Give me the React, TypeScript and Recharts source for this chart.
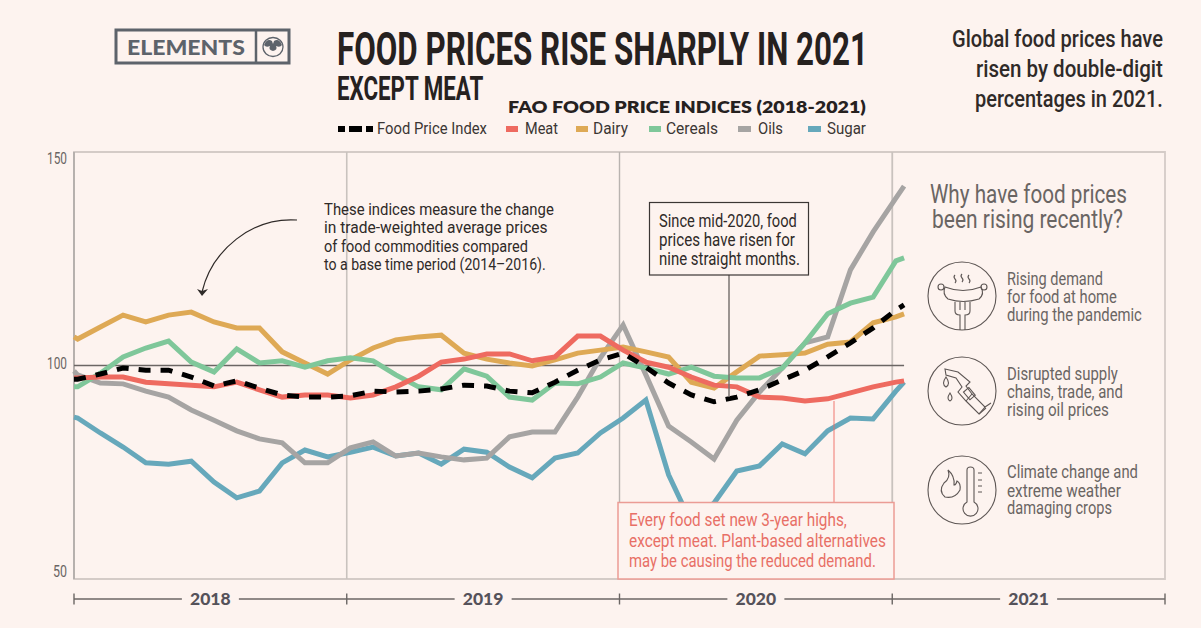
import React from "react";
import { LineChart, Line, XAxis, YAxis, ReferenceLine, ReferenceArea } from "recharts";

// Month positions on the time axis (0 = left edge of 2018, 12 months per year block)
const positions = [0, 0.16, 1.16, 2.16, 3.16, 4.16, 5.16, 6.16, 7.16, 8.16, 9.16, 10.16, 11.16, 12.16, 13.16, 14.16, 15.16, 16.16, 17.16, 18.16, 19.16, 20.16, 21.16, 22.16, 23.16, 24.16, 25.16, 26.16, 27.16, 28.16, 29.16, 30.16, 31.16, 32.16, 33.16, 34.16, 35.16, 36.16, 36.52];

const foodPriceIndex = [96.8, 96.8, 98.0, 99.4, 98.9, 98.9, 97.3, 95.2, 96.4, 94.7, 93.1, 92.6, 92.6, 92.9, 94.0, 93.8, 94.0, 94.5, 95.4, 95.2, 94.0, 93.6, 96.1, 98.9, 101.3, 102.9, 99.6, 95.9, 93.1, 91.5, 92.6, 94.3, 96.6, 98.9, 102.0, 105.3, 108.8, 113.0, 114.2];
const meat = [97.1, 97.1, 97.3, 97.3, 96.1, 95.7, 95.4, 95.0, 96.1, 94.3, 92.6, 93.1, 93.1, 92.4, 93.1, 95.0, 97.5, 100.8, 101.5, 102.7, 102.7, 101.1, 102.0, 106.9, 106.9, 103.6, 100.8, 99.6, 97.3, 95.4, 95.0, 92.6, 92.4, 91.7, 92.2, 93.6, 95.0, 96.1, 96.4];
const dairy = [106.7, 106.2, 109.0, 111.8, 110.2, 111.8, 112.5, 110.2, 108.8, 108.8, 103.2, 100.6, 98.0, 101.3, 104.1, 106.0, 106.7, 107.1, 102.9, 101.5, 100.6, 99.9, 101.3, 102.9, 103.6, 104.3, 103.2, 102.0, 96.1, 94.7, 98.5, 102.2, 102.5, 102.9, 105.0, 105.5, 110.0, 111.4, 112.1];
const cereals = [95.0, 95.0, 98.2, 102.0, 104.1, 105.7, 100.8, 98.5, 103.9, 100.6, 101.1, 99.6, 101.1, 101.8, 101.1, 97.8, 95.0, 94.3, 99.2, 97.5, 92.6, 91.9, 95.9, 95.7, 97.3, 100.6, 99.4, 98.0, 99.6, 97.5, 97.1, 97.1, 99.4, 105.3, 112.1, 114.6, 116.0, 124.5, 125.2];
const oils = [98.7, 97.8, 95.9, 95.7, 94.0, 92.6, 89.6, 87.2, 84.7, 82.8, 81.9, 77.2, 77.2, 80.7, 82.1, 78.8, 79.5, 78.6, 77.9, 78.3, 83.3, 84.4, 84.4, 92.6, 101.8, 109.5, 97.8, 85.8, 82.1, 78.1, 87.2, 93.8, 99.4, 105.3, 106.7, 122.4, 131.3, 139.2, 142.0];
const sugar = [87.9, 87.7, 84.2, 80.9, 77.2, 76.9, 77.6, 72.7, 69.0, 70.6, 77.2, 80.2, 78.6, 79.7, 80.9, 78.8, 79.5, 76.9, 80.4, 79.7, 76.2, 73.7, 78.3, 79.5, 84.2, 87.7, 91.9, 74.4, 63.1, 67.8, 75.3, 76.5, 81.6, 79.3, 84.7, 87.7, 87.5, 94.0, 96.1];

const rows = positions.map((t, i) => ({
  t,
  fpi: foodPriceIndex[i],
  meat: meat[i],
  dairy: dairy[i],
  cereals: cereals[i],
  oils: oils[i],
  sugar: sugar[i],
}));

const BG = "#fdf3ef";
const RED = "#ee6a60";
const GOLD = "#dea955";
const GREEN = "#7fc79a";
const GREY = "#a6a4a3";
const BLUE = "#66a8bb";
const INK = "#5f5a58";

const yTicks = [50, 100, 150];
const yLabelShift: Record<number, number> = { 150: 5, 100: -3.5, 50: -9 };
const xTicks = [0, 12, 24, 36, 48];
const yearLabels = ["2018", "2019", "2020", "2021"];
const MONTH_PX = 22.73;

const measureCtx = document.createElement("canvas").getContext("2d") as CanvasRenderingContext2D;

// Text squeezed horizontally to the reference's width, through a real transform
const T = ({ x, y, w, s, c = INK, wt = 400, f = "Roboto", children }: any) => {
  measureCtx.font = `${wt} ${s}px ${f}`;
  const natural = measureCtx.measureText(String(children)).width || w;
  return (
    <text transform={`translate(${x} ${y}) scale(${w / natural} 1)`} fontFamily={f} fontSize={s} fontWeight={wt} fill={c}>
      {children}
    </text>
  );
};

const YTick = (p: any) => {
  const v = p.payload.value;
  const w = v > 99 ? 20 : 14;
  return <T x={67 - w} y={p.y + yLabelShift[v] + 6.5} w={w} s={17} c="#6a6563">{v}</T>;
};

const XTick = (p: any) => {
  const idx = xTicks.indexOf(p.payload.value);
  const yy = 599;
  const block = MONTH_PX * 12;
  return (
    <g>
      <line x1={p.x} x2={p.x} y1={yy - 5.5} y2={yy + 5.5} stroke="#6b6664" strokeWidth={1.4} />
      {idx < 4 && (
        <g>
          <line x1={p.x} x2={p.x + block / 2 - 28.5} y1={yy} y2={yy} stroke="#6b6664" strokeWidth={1.4} />
          <line x1={p.x + block / 2 + 28.5} x2={p.x + block} y1={yy} y2={yy} stroke="#6b6664" strokeWidth={1.4} />
          <text x={p.x + block / 2} y={yy + 6} textAnchor="middle" fontFamily="Lato" fontWeight={900} fontSize={17.5} fill="#55525a">
            {yearLabels[idx]}
          </text>
        </g>
      )}
    </g>
  );
};

const legendItems = [
  { name: "Meat", color: RED, sx: 506, sw: 12, tx: 525, tw: 33 },
  { name: "Dairy", color: GOLD, sx: 576, sw: 12, tx: 593, tw: 35 },
  { name: "Cereals", color: GREEN, sx: 649, sw: 12, tx: 666, tw: 52 },
  { name: "Oils", color: GREY, sx: 738, sw: 13, tx: 758, tw: 25 },
  { name: "Sugar", color: BLUE, sx: 808, sw: 13, tx: 827, tw: 39 },
];

const Overlay = () => (
  <svg width={1201} height={628} style={{ position: "absolute", left: 0, top: 0, pointerEvents: "none" }}>
    {/* Logo */}
    <rect x={116} y={30} width={173} height={33} fill="none" stroke="#5d636b" strokeWidth={3} />
    <line x1={256} x2={256} y1={30} y2={63} stroke="#5d636b" strokeWidth={2.5} />
    <T x={127} y={54.5} w={118} s={21.5} wt={900} c="#5d636b" f="Lato">ELEMENTS</T>
    <ellipse cx={273} cy={47} rx={10} ry={9.5} fill="none" stroke="#5d636b" strokeWidth={1.3} />
    <path d="M264 45 Q267 38 272 41 L273 44 L274 41 Q279 38 282 45 Q280 48 276 46 Q278 50 273 51 Q268 50 270 46 Q266 48 264 45Z" fill="#5d636b" />

    {/* Titles */}
    <T x={337} y={65} w={531} s={46} wt={700} c="#26211f">FOOD PRICES RISE SHARPLY IN 2021</T>
    <T x={337} y={100} w={147} s={34} wt={700} c="#26211f">EXCEPT MEAT</T>
    <T x={508} y={113} w={358} s={17} wt={800} c="#26211f" f="Lato">FAO FOOD PRICE INDICES (2018-2021)</T>

    {/* Legend */}
    <g>
      <rect x={338} y={126} width={7} height={6} fill="#000" />
      <rect x={349} y={126} width={13} height={6} fill="#000" />
      <rect x={366} y={126} width={7} height={6} fill="#000" />
      <T x={377} y={134} w={110} s={17} c="#3b3634">Food Price Index</T>
      {legendItems.map((l) => (
        <g key={l.name}>
          <rect x={l.sx} y={126} width={l.sw} height={6} fill={l.color} />
          <T x={l.tx} y={134} w={l.tw} s={17} c="#3b3634">{l.name}</T>
        </g>
      ))}
    </g>

    {/* Top right blurb */}
    <T x={952} y={47} w={211} s={23} wt={500} c="#2f2a28">Global food prices have</T>
    <T x={976} y={77} w={187} s={23} wt={500} c="#2f2a28">risen by double-digit</T>
    <T x={975} y={107} w={188} s={23} wt={500} c="#2f2a28">percentages in 2021.</T>

    {/* Note */}
    <T x={324} y={215} w={230} s={17} c="#2f2a28">These indices measure the change</T>
    <T x={324} y={233} w={224} s={17} c="#2f2a28">in trade-weighted average prices</T>
    <T x={324} y={252} w={204} s={17} c="#2f2a28">of food commodities compared</T>
    <T x={324} y={270} w={222} s={17} c="#2f2a28">to a base time period (2014–2016).</T>
    <path d="M297 220 C252 217 212 250 202 292" fill="none" stroke="#2f2a28" strokeWidth={1.2} />
    <path d="M197 289 L202 296 L208 289 L202 291Z" fill="#2f2a28" />

    {/* Black callout */}
    <line x1={729} x2={729} y1={275} y2={397} stroke="#7a7572" strokeWidth={1.5} />
    <rect x={649.5} y={202.5} width={159} height={72.5} fill={BG} stroke="#3b3634" strokeWidth={1.2} />
    <T x={659} y={227} w={138} s={18} c="#2f2a28">Since mid-2020, food</T>
    <T x={659} y={246} w={136} s={18} c="#2f2a28">prices have risen for</T>
    <T x={659} y={265} w={141} s={18} c="#2f2a28">nine straight months.</T>

    {/* Red callout */}
    <line x1={834} x2={834} y1={401} y2={502} stroke={RED} strokeOpacity={0.75} strokeWidth={1.2} />
    <rect x={618} y={502.5} width={276} height={76.5} fill={BG} stroke="#eb9c95" strokeWidth={1.5} />
    <T x={629} y={526} w={218} s={18} c="#e86f66">Every food set new 3-year highs,</T>
    <T x={629} y={547} w={257} s={18} c="#e86f66">except meat. Plant-based alternatives</T>
    <T x={629} y={567} w={247} s={18} c="#e86f66">may be causing the reduced demand.</T>

    {/* Right panel */}
    <T x={930} y={203} w={197} s={26} c="#6a6563">Why have food prices</T>
    <T x={932} y={228} w={191} s={26} c="#6a6563">been rising recently?</T>

    <g fill="none" stroke="#5d5654" strokeWidth={1.1}>
      <circle cx={962} cy={296} r={34} />
      <circle cx={962} cy={391} r={34} />
      <circle cx={962} cy={490} r={34} />

      {/* sausage and fork */}
      <path d="M945 287 Q963 294 981 287 Q985 294 979 299 Q963 304 948 299 Q942 294 945 287Z" />
      <circle cx={941} cy={287} r={3} />
      <circle cx={984} cy={287} r={3} />
      <path d="M955 302 V311 Q955 315 960 315 V330 M965 330 V315 Q970 315 970 311 V302 M960 302 V310 M965 302 V310" />
      <path d="M955 275 q-2 2 0 4 q2 2 0 4 M962 274 q-2 2 0 4 q2 2 0 4 M969 275 q-2 2 0 4 q2 2 0 4" />

      {/* fuel nozzle */}
      <path d="M945 369 L958 372 L970 382 L966 386 L972 394 L985 407 L979 414 L966 401 L958 392 L962 387 L956 378 L946 375Z" />
      <path d="M972 394 L966 401 M985 407 L991 403 M979 414 L986 408" />
      <rect x={966} y={389} width={7} height={10} transform="rotate(-40 969 394)" />
      <path d="M946 377 q-5 7 0 10 q5 -3 0 -10Z M950 393 q-4 6 0 8 q4 -2 0 -8Z" />

      {/* flame and thermometer */}
      <path d="M948 470 Q951 478 944 483 Q938 491 945 497 Q955 499 960 490 Q961 483 957 481 Q956 485 954 485 Q955 476 948 470Z" />
      <path d="M967 502 V470 Q967 467 970.5 467 Q974 467 974 470 V502 A7.5 7.5 0 1 1 967 502Z" />
      <path d="M978 473 H982 M978 480 H982 M978 486 H982 M978 492 H982" />
    </g>

    <T x={1007} y={285} w={96} s={18} c="#6a6563">Rising demand</T>
    <T x={1007} y={303} w={110} s={18} c="#6a6563">for food at home</T>
    <T x={1007} y={321} w={135} s={18} c="#6a6563">during the pandemic</T>
    <T x={1007} y={380} w={111} s={18} c="#6a6563">Disrupted supply</T>
    <T x={1007} y={398} w={116} s={18} c="#6a6563">chains, trade, and</T>
    <T x={1007} y={416} w={102} s={18} c="#6a6563">rising oil prices</T>
    <T x={1007} y={478} w={131} s={18} c="#6a6563">Climate change and</T>
    <T x={1007} y={497} w={114} s={18} c="#6a6563">extreme weather</T>
    <T x={1007} y={514} w={105} s={18} c="#6a6563">damaging crops</T>
  </svg>
);

export default function App() {
  return (
    <div style={{ position: "absolute", left: 0, top: 0, width: 1201, height: 628, background: BG, overflow: "hidden" }}>
      <LineChart width={1201} height={628} data={rows} margin={{ left: 0, right: 36, top: 152, bottom: 0 }}>
        <XAxis dataKey="t" type="number" domain={[0, 48]} ticks={xTicks} interval={0} height={49} axisLine={false} tickLine={false} tick={<XTick />} />
        <YAxis type="number" domain={[50, 150]} ticks={yTicks} width={74} axisLine={false} tickLine={false} tick={<YTick />} />
        <ReferenceArea x1={0} x2={48} y1={50} y2={150} fill="none" stroke="#d4cbc7" strokeWidth={1.8} />
        <ReferenceLine x={0} stroke="#a9a4a1" strokeWidth={1.4} />
        <ReferenceLine x={12} stroke="#c9c2be" strokeWidth={1.6} />
        <ReferenceLine x={24} stroke="#b9b3b0" strokeWidth={1.4} />
        <ReferenceLine x={36} stroke="#c9c2be" strokeWidth={1.8} />
        <ReferenceLine segment={[{ x: 0, y: 100 }, { x: 36.52, y: 100 }]} stroke="#6b6664" strokeWidth={1.3} />
        <Line dataKey="sugar" stroke={BLUE} strokeWidth={5} dot={false} isAnimationActive={false} />
        <Line dataKey="oils" stroke={GREY} strokeWidth={5} dot={false} isAnimationActive={false} />
        <Line dataKey="dairy" stroke={GOLD} strokeWidth={5} dot={false} isAnimationActive={false} />
        <Line dataKey="cereals" stroke={GREEN} strokeWidth={5} dot={false} isAnimationActive={false} />
        <Line dataKey="meat" stroke={RED} strokeWidth={5} dot={false} isAnimationActive={false} />
        <Line dataKey="fpi" stroke="#000" strokeWidth={5} strokeDasharray="12 10" dot={false} isAnimationActive={false} />
      </LineChart>
      <Overlay />
    </div>
  );
}
